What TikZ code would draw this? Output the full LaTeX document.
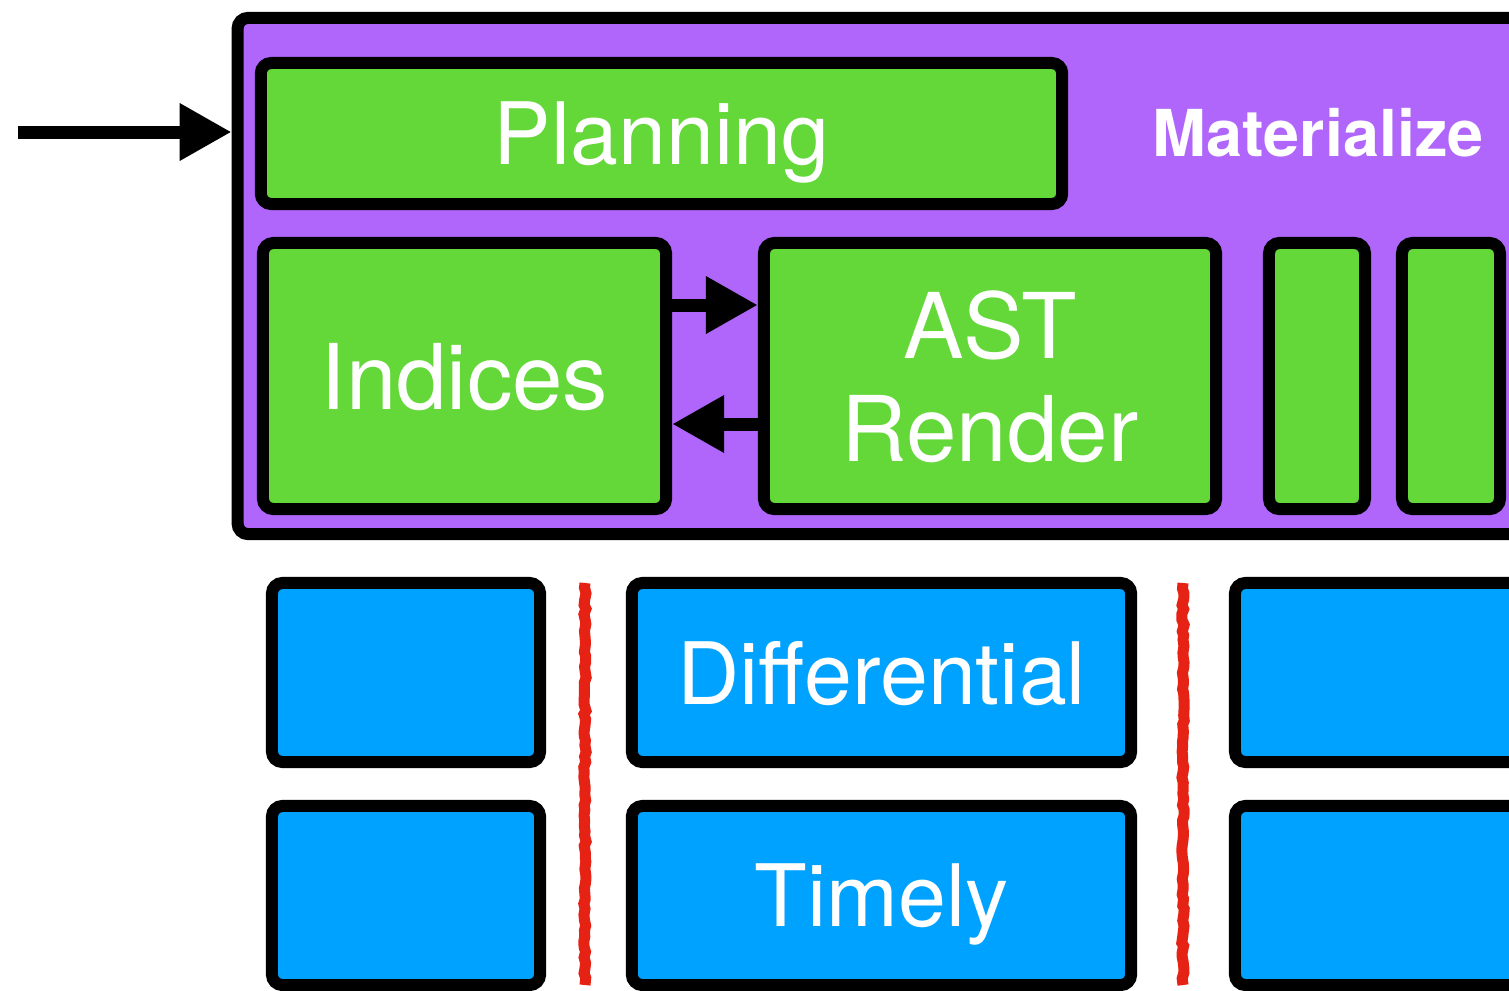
\documentclass[tikz,border=0pt]{standalone}
\usepackage{fontspec}
\setmainfont{TeX Gyre Heros}
\usepackage{tikz}
\usetikzlibrary{arrows.meta,decorations.pathmorphing}

\definecolor{matpurple}{RGB}{176,102,250}
\definecolor{opgreen}{RGB}{99,216,56}
\definecolor{ddblue}{RGB}{0,162,255}
\definecolor{sepred}{RGB}{230,34,20}

\begin{document}
\begin{tikzpicture}[x=0.01cm,y=-0.01cm,
    box/.style={draw=black,line width=0.12cm,rounded corners=3pt,inner sep=0pt},
    matbox/.style={box,fill=matpurple},
    opbox/.style={box,fill=opgreen},
    ddbox/.style={box,fill=ddblue,minimum height=1.79cm},
    lbl/.style={text=white,font=\fontsize{24.5}{29.5}\selectfont,align=center,text depth=0pt},
    biglbl/.style={lbl,font=\fontsize{25.8}{29.5}\selectfont},
    flow/.style={line width=0.13cm,-{Triangle[length=0.52cm,width=0.54cm]}},
    sep/.style={sepred,line width=0.11cm,decorate,decoration={random steps,segment length=1.5pt,amplitude=0.35pt}}]
          \useasboundingbox (0,0) rectangle (1509,990);
          \clip (0,0) rectangle (1509,990);
          \node[matbox,minimum width=12.92cm,minimum height=5.16cm] (mat) at (884,276){};
          \node[opbox,lbl,minimum width=8.01cm,minimum height=1.41cm] (plan) at (661.5,133.5){Planning};
          \node[text=white,font=\bfseries\fontsize{18.4}{22}\selectfont] (matlbl) at (1318,133){Materialize};
          \node[opbox,biglbl,minimum width=4.03cm,minimum height=2.66cm] (idx) at (464.5,376){Indices};
          \node[opbox,biglbl,minimum width=4.52cm,minimum height=2.66cm] (ast) at (990,376){AST\\Render};
          \node[opbox,minimum width=0.96cm,minimum height=2.66cm] (g1) at (1317,376){};
          \node[opbox,minimum width=0.98cm,minimum height=2.66cm] (g2) at (1451,376){};
          \node[ddbox,minimum width=2.68cm] (b11) at (406,672.5){};
          \node[ddbox,lbl,minimum width=4.99cm] (diff) at (881.5,672.5){Differential};
          \node[ddbox,minimum width=2.95cm] (b13) at (1382.5,672.5){};
          \node[ddbox,minimum width=2.68cm] (b21) at (406,895.5){};
          \node[ddbox,lbl,minimum width=4.99cm] (timely) at (881.5,895.5){Timely};
          \node[ddbox,minimum width=2.95cm] (b23) at (1382.5,895.5){};
          \coordinate (in) at (18,132);
          \coordinate (fwd) at (0,305);
          \coordinate (back) at (0,424);
          \draw[flow] (in) -- (in -| mat.west);
          \draw[flow] (idx.east |- fwd) -- (ast.west |- fwd);
          \draw[flow] (ast.west |- back) -- (idx.east |- back);
          \draw[sep] (585,583) -- (585,985);
          \draw[sep] (1183,583) -- (1183,985);
        \end{tikzpicture}
\end{document}
